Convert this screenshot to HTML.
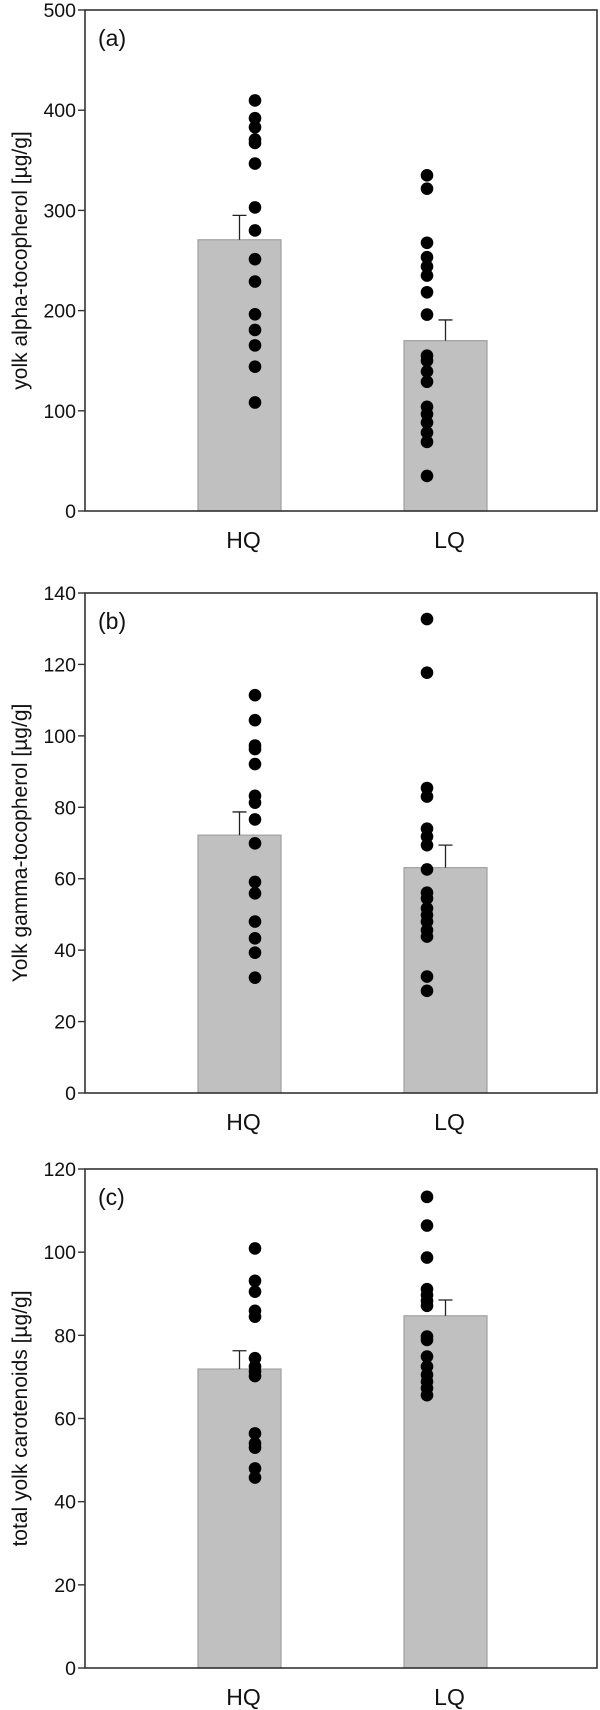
<!DOCTYPE html>
<html><head><meta charset="utf-8"><style>
html,body{margin:0;padding:0;background:#fff}
svg{display:block;font-family:"Liberation Sans",Arial,sans-serif}
</style></head><body>
<svg id="chart" width="600" height="1710" viewBox="0 0 600 1710" xmlns="http://www.w3.org/2000/svg"></svg>
<script>
const categories = ["HQ", "LQ"];
const panelLabels = ["(a)", "(b)", "(c)"];
const yTitles = ["yolk alpha-tocopherol [µg/g]", "Yolk gamma-tocopherol [µg/g]", "total yolk carotenoids [µg/g]"];
const yMax = [500, 140, 120];
const tickStep = [100, 20, 20];
const meanA = [270.7, 170];
const errA = [295, 190.7];
const meanB = [72.2, 63.1];
const errB = [78.7, 69.4];
const meanC = [71.9, 84.7];
const errC = [76.3, 88.5];
const hqA = [409.7, 392, 383, 370.7, 367.3, 346.7, 303, 280, 251.3, 229, 196.3, 180.7, 165.3, 144, 108.3];
const lqA = [335, 321.7, 267.7, 253.3, 244, 235, 218.3, 196, 155, 150, 139.3, 129, 104, 96.7, 88.3, 78.3, 69, 35];
const hqB = [111.4, 104.4, 97.3, 96.3, 92.1, 83.2, 81.3, 76.6, 69.9, 59.1, 55.9, 48.0, 43.3, 39.3, 32.3];
const lqB = [132.7, 117.7, 85.4, 83.0, 74.0, 71.8, 69.4, 62.6, 56.1, 54.5, 51.7, 49.8, 48.0, 45.6, 43.8, 32.6, 28.6];
const hqC = [100.9, 93.1, 90.5, 85.9, 84.5, 74.5, 72.5, 71.3, 70.2, 56.4, 54.0, 53.0, 48.0, 45.8];
const lqC = [113.3, 106.4, 98.7, 91.1, 89.7, 88.3, 87.1, 79.7, 78.9, 74.9, 72.5, 70.5, 68.9, 67.3, 65.6];

const panels = [
  {top:10, bottom:511, means:meanA, errs:errA, pts:[hqA, lqA]},
  {top:593, bottom:1093, means:meanB, errs:errB, pts:[hqB, lqB]},
  {top:1169, bottom:1668, means:meanC, errs:errC, pts:[hqC, lqC]}
];
const svg = document.getElementById('chart');
const NS = "http://www.w3.org/2000/svg";
function mk(tag, attrs, parent){const e=document.createElementNS(NS,tag);for(const k in attrs)e.setAttribute(k,attrs[k]);(parent||svg).appendChild(e);return e;}
const L=85, R=597;
const barL=[198,404], barW=83, dotX=[255,427];
panels.forEach((p,i)=>{
  const g = mk('g',{});
  
  
  const y = v => p.bottom - v/yMax[i]*(p.bottom-p.top);
  categories.forEach((c,j)=>{
    const b = mk('rect',{x:barL[j], y:y(p.means[j]), width:barW, height:p.bottom-y(p.means[j]), fill:'#c0c0c0', stroke:'#a0a0a0','stroke-width':1.2}, g);
    
    
    const cx = barL[j]+barW/2;
    const eb = mk('path',{d:`M${cx},${y(p.means[j])}V${y(p.errs[j])}M${cx-7},${y(p.errs[j])}H${cx+7}`, stroke:'#222','stroke-width':1.3, fill:'none'}, g);
    
    
  });
  categories.forEach((c,j)=>{
    p.pts[j].forEach(v=>{
      const d = mk('circle',{cx:dotX[j], cy:y(v), r:6.3, fill:'#000'}, g);
      
      
    });
  });
  const fr = mk('rect',{x:L, y:p.top, width:R-L, height:p.bottom-p.top, fill:'none', stroke:'#333','stroke-width':1.6}, g);
  
  
  for(let v=0; v<=yMax[i]; v+=tickStep[i]){
    const t = mk('line',{x1:L-7, x2:L, y1:y(v), y2:y(v), stroke:'#333','stroke-width':1.4}, g);
    
    
    const tl = mk('text',{x:L-9, y:y(v)+7, 'text-anchor':'end', 'font-size':19.5, fill:'#111'}, g);
    tl.textContent = v;
    
    
  }
  categories.forEach((c,j)=>{
    const xl = mk('text',{x:barL[j]+barW/2+4, y:p.bottom+37, 'text-anchor':'middle','font-size':23, fill:'#111'}, g);
    xl.textContent = c;
    
    
  });
  const pl = mk('text',{x:98, y:p.top+36, 'font-size':23, fill:'#111'}, g);
  pl.textContent = panelLabels[i];
  
  
  const cy = (p.top+p.bottom)/2;
  const yt = mk('text',{x:0, y:0, transform:`translate(27,${cy}) rotate(-90)`, 'text-anchor':'middle','font-size':21, fill:'#111'}, g);
  yt.textContent = yTitles[i];
  
  
});
</script>
</body></html>
